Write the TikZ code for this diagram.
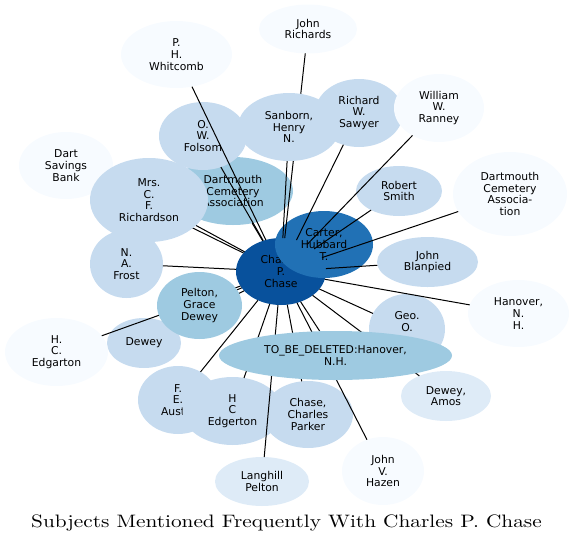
\documentclass[tikz,border=0pt]{standalone}
\usepackage{fontspec}
\usepackage{graphicx}
\usetikzlibrary{shapes.geometric}
\newfontfamily\lblfont{DejaVu Sans}
\definecolor{bA}{HTML}{F7FBFF}
\definecolor{bB}{HTML}{DEEBF7}
\definecolor{bC}{HTML}{C6DBEF}
\definecolor{bD}{HTML}{9ECAE1}
\definecolor{bG}{HTML}{2171B5}
\definecolor{bH}{HTML}{08519C}
\pgfdeclarelayer{bg}
\pgfdeclarelayer{edges}
\pgfsetlayers{bg,edges,main}
\begin{document}
\begin{tikzpicture}[x=1pt,y=-1pt,
  nd/.style={ellipse, inner sep=0pt, outer sep=0pt, align=center,
    font=\lblfont\fontsize{10.8}{11.7}\selectfont, text=black},
  sz/.style 2 args={minimum width=#1pt, minimum height=#2pt},
  edge/.style={draw=black, line width=1pt}]
\useasboundingbox (0,0) rectangle (574,542);
\begin{pgfonlayer}{bg}
\node[nd, fill=bA, sz={94}{67}] (bank) at (66,165.5) {Dart\\Savings\\Bank};
\node[nd, fill=bA, sz={111}{67}] (whit) at (176.5,54.5) {P.\\H.\\Whitcomb};
\node[nd, fill=bA, sz={98}{49}] (jrich) at (308,29) {John\\Richards};
\node[nd, fill=bD, sz={120}{68}] (dcal) at (233,191) {Dartmouth\\Cemetery\\Association};
\node[nd, fill=bC, sz={88}{68}] (folsom) at (203,136) {O.\\W.\\Folsom};
\node[nd, fill=bC, sz={88}{68}] (sawyer) at (359,113) {Richard\\W.\\Sawyer};
\node[nd, fill=bA, sz={90}{68}] (ranney) at (439,108) {William\\W.\\Ranney};
\node[nd, fill=bC, sz={86}{50}] (smith) at (399,191) {Robert\\Smith};
\node[nd, fill=bA, sz={114}{84}] (dcar) at (510,194) {Dartmouth\\Cemetery\\Associa-\\tion};
\node[nd, fill=bH, sz={90}{67}] (chase) at (281,271.5) {Charles\\P.\\Chase};
\node[nd, fill=bG, sz={98}{67}] (carter) at (324,244.5) {Carter,\\Hubbard\\T.};
\node[nd, fill=bC, sz={101}{50}] (blanp) at (427.5,262) {John\\Blanpied};
\node[nd, fill=bC, sz={73}{68}] (frost) at (126.5,264) {N.\\A.\\Frost};
\node[nd, fill=bA, sz={101}{67}] (hanover) at (518.5,313.5) {Hanover,\\N.\\H.};
\node[nd, fill=bC, sz={76}{70}] (geo) at (407,329) {Geo.\\O.\\\strut};
\node[nd, fill=bC, sz={74}{50}] (dewey) at (144,343) {Dewey};
\node[nd, fill=bA, sz={103}{68}] (hced) at (56.5,352) {H.\\C.\\Edgarton};
\node[nd, fill=bB, sz={90}{50}] (amos) at (446,396) {Dewey,\\Amos};
\node[nd, fill=bC, sz={80}{68}] (austin) at (178,400) {F.\\E.\\Austin};
\node[nd, fill=bC, sz={100}{68}] (edger) at (232.5,411) {H\\C\\Edgerton};
\node[nd, fill=bC, sz={90}{67}] (parker) at (308,414.5) {Chase,\\Charles\\Parker};
\node[nd, fill=bA, sz={82}{68}] (hazen) at (383,471) {John\\V.\\Hazen};
\node[nd, fill=bB, sz={94}{49}] (langh) at (262,481.5) {Langhill\\Pelton};
\end{pgfonlayer}
\node[nd, fill=bC, sz={102}{68}] (sanborn) at (289,127) {Sanborn,\\Henry\\N.};
\node[nd, fill=bC, sz={118}{84}] (richard) at (149,200) {Mrs.\\C.\\F.\\Richardson};
\node[nd, fill=bD, sz={85}{67}] (pelton) at (199.5,305.5) {Pelton,\\Grace\\Dewey};
\node[nd, fill=bD, sz={233}{49}] (tbd) at (335.5,355.5) {TO\_BE\_DELETED:Hanover,\\N.H.};
\begin{pgfonlayer}{edges}
\foreach \t in {bank,whit,jrich,dcal,folsom,sawyer,ranney,smith,dcar,blanp,frost,
  hanover,geo,dewey,hced,amos,austin,edger,parker,hazen,langh,sanborn,richard,pelton,tbd}
  {\draw[edge] (chase) -- (\t);}
\end{pgfonlayer}
\node[anchor=base, inner sep=0pt] (title) at (286.5,527)
  {\scalebox{2.13}[1.8]{\fontsize{10}{12}\selectfont Subjects Mentioned Frequently With Charles P. Chase}};
\end{tikzpicture}
\end{document}
